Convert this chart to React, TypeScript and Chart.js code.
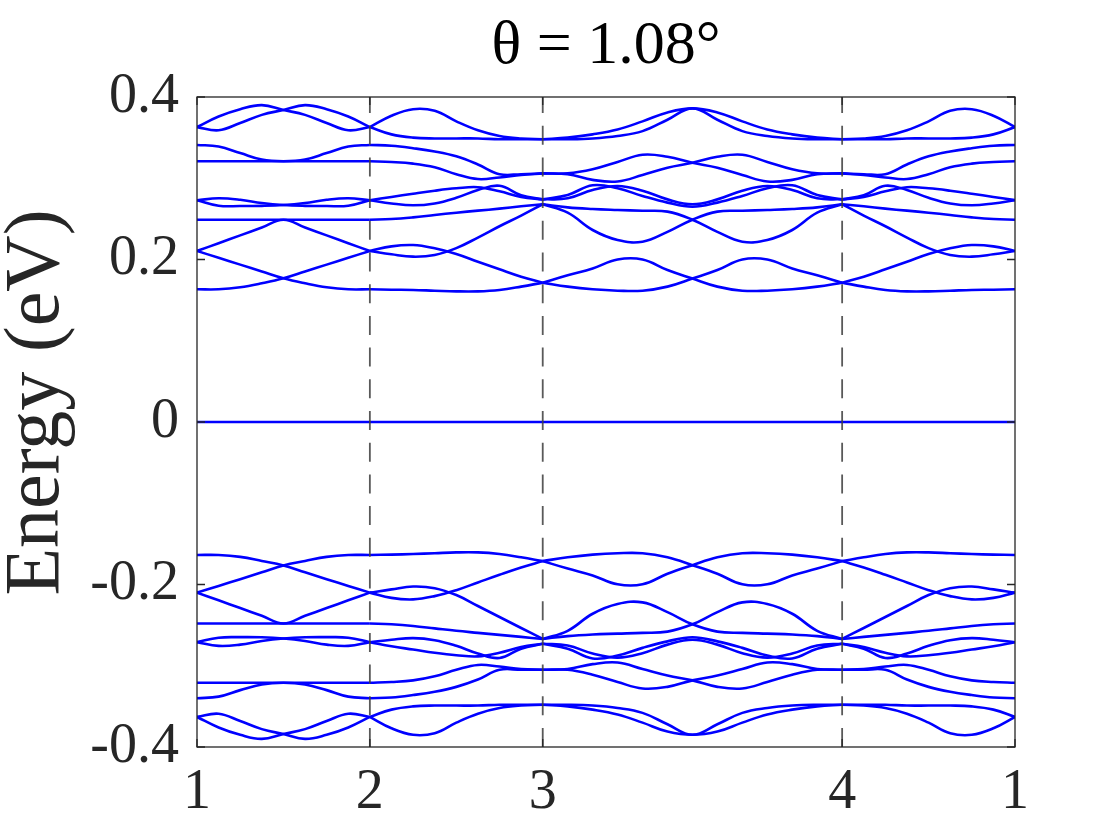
import React, { useEffect, useRef } from 'react';
import { Chart, registerables } from 'chart.js';

Chart.register(...registerables);

// High-symmetry path: node positions (path length units) and labels
const K_NODES = [0, 1, 2, 3.732, 4.732];
const K_NODE_LABELS = ['1', '2', '3', '4', '1'];
const SEG_STEPS = [8, 8, 12, 8];

const Y_TICKS = [-0.4, -0.2, 0, 0.2, 0.4];
const Y_TICK_LABELS = ['-0.4', '-0.2', '0', '0.2', '0.4'];
const TITLE = 'θ = 1.08°';
const Y_LABEL = '  Energy (eV)';

// Conduction-side bands (eV), sampled along the path (37 samples)
const UP_1 = [0.363, 0.376, 0.385, 0.390, 0.384, 0.378, 0.368, 0.359, 0.363,
  0.377, 0.385, 0.383, 0.370, 0.359, 0.352, 0.349, 0.348,
  0.350, 0.354, 0.360, 0.370, 0.381, 0.386, 0.381, 0.370, 0.360, 0.354, 0.350, 0.348,
  0.349, 0.352, 0.359, 0.370, 0.383, 0.385, 0.377, 0.363];
const UP_2 = [0.363, 0.359, 0.368, 0.378, 0.384, 0.390, 0.385, 0.376, 0.363,
  0.354, 0.350, 0.349, 0.349, 0.349, 0.348, 0.348, 0.348,
  0.348, 0.349, 0.352, 0.358, 0.372, 0.386, 0.372, 0.358, 0.352, 0.349, 0.348, 0.348,
  0.348, 0.348, 0.349, 0.349, 0.349, 0.350, 0.354, 0.363];
const UP_3 = [0.341, 0.339, 0.331, 0.323, 0.321, 0.323, 0.331, 0.339, 0.341,
  0.340, 0.337, 0.333, 0.327, 0.317, 0.305, 0.305, 0.306,
  0.306, 0.311, 0.320, 0.329, 0.3265, 0.319, 0.313, 0.304, 0.296, 0.298, 0.305, 0.306,
  0.305, 0.305, 0.317, 0.327, 0.333, 0.337, 0.340, 0.341];
const UP_4 = [0.321, 0.321, 0.321, 0.321, 0.321, 0.321, 0.321, 0.321, 0.321,
  0.320, 0.318, 0.3135, 0.305, 0.299, 0.301, 0.304, 0.306,
  0.305, 0.298, 0.296, 0.304, 0.313, 0.319, 0.3265, 0.329, 0.320, 0.311, 0.306, 0.306,
  0.304, 0.301, 0.299, 0.305, 0.3135, 0.318, 0.320, 0.321];
const UP_5 = [0.273, 0.2753, 0.2735, 0.2695, 0.267, 0.266, 0.2658, 0.2662, 0.273,
  0.277, 0.281, 0.2847, 0.2876, 0.289, 0.284, 0.277, 0.274,
  0.2794, 0.2913, 0.2876, 0.2782, 0.270, 0.265, 0.270, 0.2782, 0.2876, 0.2913, 0.2794, 0.274,
  0.277, 0.284, 0.289, 0.2876, 0.2847, 0.281, 0.277, 0.273];
const UP_6 = [0.273, 0.2662, 0.2658, 0.266, 0.267, 0.2695, 0.2735, 0.2753, 0.273,
  0.269, 0.2667, 0.269, 0.276, 0.2855, 0.2908, 0.279, 0.274,
  0.2753, 0.2855, 0.2905, 0.2847, 0.274, 0.268, 0.274, 0.2847, 0.2905, 0.2855, 0.2753, 0.274,
  0.279, 0.2908, 0.2855, 0.276, 0.269, 0.2667, 0.269, 0.273];
const UP_7 = [0.249, 0.249, 0.249, 0.249, 0.249, 0.249, 0.249, 0.249, 0.249,
  0.2498, 0.2519, 0.2548, 0.2576, 0.2601, 0.2626, 0.2655, 0.268,
  0.2642, 0.2622, 0.261, 0.260, 0.2589, 0.249, 0.234, 0.2219, 0.224, 0.2363, 0.2576, 0.268,
  0.2655, 0.2626, 0.2601, 0.2576, 0.2548, 0.2519, 0.2498, 0.249];
const UP_8 = [0.2105, 0.220, 0.2297, 0.2393, 0.249, 0.2393, 0.2297, 0.220, 0.2105,
  0.2064, 0.2035, 0.2055, 0.214, 0.227, 0.2409, 0.254, 0.268,
  0.2576, 0.2363, 0.224, 0.2219, 0.234, 0.249, 0.2589, 0.260, 0.261, 0.2622, 0.2642, 0.268,
  0.254, 0.2409, 0.227, 0.214, 0.2055, 0.2035, 0.2064, 0.2105];
const UP_9 = [0.1633, 0.1633, 0.1658, 0.1707, 0.1768, 0.1852, 0.1937, 0.2021, 0.2105,
  0.2162, 0.2178, 0.2138, 0.2068, 0.1973, 0.1879, 0.1788, 0.1715,
  0.1666, 0.1633, 0.1616, 0.1616, 0.1666, 0.1765, 0.187, 0.200, 0.200, 0.189, 0.1806, 0.1715,
  0.1666, 0.1625, 0.1608, 0.1608, 0.1616, 0.1625, 0.1628, 0.1633];
const UP_10 = [0.2105, 0.2021, 0.1937, 0.1852, 0.1768, 0.1707, 0.1658, 0.1633, 0.1633,
  0.1628, 0.1625, 0.1616, 0.1608, 0.1608, 0.1625, 0.1666, 0.1715,
  0.1806, 0.189, 0.200, 0.200, 0.187, 0.1765, 0.1666, 0.1616, 0.1616, 0.1633, 0.1666, 0.1715,
  0.1788, 0.1879, 0.1973, 0.2068, 0.2138, 0.2178, 0.2162, 0.2105];

// Flat bands at zero energy
const FLAT_0 = [0, 0, 0, 0, 0, 0, 0, 0, 0, 0, 0, 0, 0, 0, 0, 0, 0, 0, 0,
  0, 0, 0, 0, 0, 0, 0, 0, 0, 0, 0, 0, 0, 0, 0, 0, 0, 0];

// Valence-side bands (eV)
const DN_1 = [-0.363, -0.376, -0.385, -0.390, -0.384, -0.378, -0.368, -0.359, -0.363,
  -0.377, -0.385, -0.383, -0.370, -0.359, -0.352, -0.349, -0.348,
  -0.350, -0.354, -0.360, -0.370, -0.381, -0.385, -0.381, -0.370, -0.360, -0.354, -0.350, -0.348,
  -0.349, -0.352, -0.359, -0.370, -0.383, -0.385, -0.377, -0.363];
const DN_2 = [-0.363, -0.359, -0.368, -0.378, -0.384, -0.390, -0.385, -0.376, -0.363,
  -0.354, -0.350, -0.349, -0.349, -0.349, -0.348, -0.348, -0.348,
  -0.348, -0.349, -0.352, -0.358, -0.372, -0.385, -0.372, -0.358, -0.352, -0.349, -0.348, -0.348,
  -0.348, -0.348, -0.349, -0.349, -0.349, -0.350, -0.354, -0.363];
const DN_3 = [-0.340, -0.338, -0.330, -0.323, -0.321, -0.323, -0.330, -0.338, -0.340,
  -0.339, -0.336, -0.332, -0.326, -0.317, -0.305, -0.305, -0.305,
  -0.305, -0.311, -0.320, -0.328, -0.326, -0.318, -0.312, -0.304, -0.296, -0.298, -0.304, -0.305,
  -0.305, -0.305, -0.317, -0.326, -0.332, -0.336, -0.339, -0.340];
const DN_4 = [-0.321, -0.321, -0.321, -0.321, -0.321, -0.321, -0.321, -0.321, -0.321,
  -0.320, -0.318, -0.313, -0.305, -0.299, -0.301, -0.304, -0.305,
  -0.304, -0.298, -0.296, -0.304, -0.312, -0.318, -0.326, -0.328, -0.320, -0.311, -0.305, -0.305,
  -0.304, -0.301, -0.299, -0.305, -0.313, -0.318, -0.320, -0.321];
const DN_5 = [-0.271, -0.2755, -0.274, -0.2695, -0.2665, -0.265, -0.2648, -0.2655, -0.271,
  -0.276, -0.280, -0.284, -0.287, -0.2885, -0.284, -0.277, -0.273,
  -0.279, -0.291, -0.2875, -0.278, -0.270, -0.265, -0.270, -0.278, -0.2875, -0.291, -0.279, -0.273,
  -0.277, -0.284, -0.2885, -0.287, -0.284, -0.280, -0.276, -0.271];
const DN_6 = [-0.271, -0.2655, -0.2648, -0.265, -0.2665, -0.2695, -0.274, -0.2755, -0.271,
  -0.268, -0.266, -0.2685, -0.2755, -0.285, -0.2905, -0.279, -0.273,
  -0.275, -0.285, -0.290, -0.2845, -0.274, -0.268, -0.274, -0.2845, -0.290, -0.285, -0.275, -0.273,
  -0.279, -0.2905, -0.285, -0.2755, -0.2685, -0.266, -0.268, -0.271];
const DN_7 = [-0.248, -0.248, -0.248, -0.248, -0.248, -0.248, -0.248, -0.248, -0.248,
  -0.249, -0.251, -0.254, -0.257, -0.2595, -0.262, -0.2645, -0.267,
  -0.2635, -0.2615, -0.2605, -0.2595, -0.258, -0.249, -0.234, -0.222, -0.224, -0.236, -0.257, -0.267,
  -0.2645, -0.262, -0.2595, -0.257, -0.254, -0.251, -0.249, -0.248];
const DN_8 = [-0.210, -0.2195, -0.229, -0.2385, -0.248, -0.2385, -0.229, -0.2195, -0.210,
  -0.206, -0.2025, -0.2045, -0.213, -0.2265, -0.240, -0.2535, -0.267,
  -0.257, -0.236, -0.224, -0.222, -0.234, -0.249, -0.258, -0.2595, -0.2605, -0.2615, -0.2635, -0.267,
  -0.2535, -0.240, -0.2265, -0.213, -0.2045, -0.2025, -0.206, -0.210];
const DN_9 = [-0.1637, -0.1637, -0.166, -0.171, -0.1765, -0.185, -0.1935, -0.2018, -0.210,
  -0.2165, -0.2183, -0.2143, -0.207, -0.1975, -0.188, -0.179, -0.1712,
  -0.1665, -0.1632, -0.1615, -0.1615, -0.1665, -0.1762, -0.1868, -0.1998, -0.1998, -0.1888, -0.1804, -0.1712,
  -0.1665, -0.1625, -0.1605, -0.1605, -0.1615, -0.1625, -0.1632, -0.1637];
const DN_10 = [-0.210, -0.2018, -0.1935, -0.185, -0.1765, -0.171, -0.166, -0.1637, -0.1637,
  -0.1632, -0.1625, -0.1615, -0.1605, -0.1605, -0.1625, -0.1665, -0.1712,
  -0.1804, -0.1888, -0.1998, -0.1998, -0.1868, -0.1762, -0.1665, -0.1615, -0.1615, -0.1632, -0.1665, -0.1712,
  -0.179, -0.188, -0.1975, -0.207, -0.2143, -0.2183, -0.2165, -0.210];

const BANDS = [UP_1, UP_2, UP_3, UP_4, UP_5, UP_6, UP_7, UP_8, UP_9, UP_10, FLAT_0,
  DN_1, DN_2, DN_3, DN_4, DN_5, DN_6, DN_7, DN_8, DN_9, DN_10];

const FONT_FAMILY = '"Liberation Serif", "DejaVu Serif", serif';
const TEXT_COLOR = '#262626';
const BAND_COLOR = '#0000ff';

function buildPath() {
  const k: number[] = [];
  const ranges: [number, number][] = [];
  let idx = 0;
  for (let s = 0; s < SEG_STEPS.length; s++) {
    const k0 = K_NODES[s];
    const k1 = K_NODES[s + 1];
    const n = SEG_STEPS[s];
    for (let j = s === 0 ? 0 : 1; j <= n; j++) {
      k.push(k0 + ((k1 - k0) * j) / n);
    }
    ranges.push([idx, idx + n]);
    idx += n;
  }
  return { k, ranges };
}

const framePlugin = {
  id: 'frame',
  afterDatasetsDraw(chart: any) {
    const { ctx, chartArea: a, scales } = chart;
    const x = scales.x;
    const y = scales.y;
    ctx.save();
    // dashed high-symmetry lines
    ctx.strokeStyle = 'rgba(60,60,60,0.85)';
    ctx.lineWidth = 1.8;
    ctx.setLineDash([19, 12.7]);
    for (const kv of K_NODES.slice(1, -1)) {
      const px = x.getPixelForValue(kv);
      ctx.beginPath();
      ctx.moveTo(px, a.bottom);
      ctx.lineTo(px, a.top);
      ctx.stroke();
    }
    ctx.setLineDash([]);
    // axes box
    ctx.strokeStyle = TEXT_COLOR;
    ctx.lineWidth = 1.3;
    ctx.strokeRect(a.left, a.top, a.right - a.left, a.bottom - a.top);
    // inward ticks
    const tl = 8;
    ctx.beginPath();
    for (const v of Y_TICKS) {
      const py = y.getPixelForValue(v);
      ctx.moveTo(a.left, py);
      ctx.lineTo(a.left + tl, py);
      ctx.moveTo(a.right, py);
      ctx.lineTo(a.right - tl, py);
    }
    for (const kv of K_NODES) {
      const px = x.getPixelForValue(kv);
      ctx.moveTo(px, a.bottom);
      ctx.lineTo(px, a.bottom - tl);
      ctx.moveTo(px, a.top);
      ctx.lineTo(px, a.top + tl);
    }
    ctx.stroke();
    ctx.restore();
  },
};

export default function App() {
  const canvasRef = useRef<HTMLCanvasElement | null>(null);

  useEffect(() => {
    document.body.style.margin = '0';
    const canvas = canvasRef.current;
    if (!canvas) return;
    const { k, ranges } = buildPath();

    const datasets: any[] = [];
    BANDS.forEach((band) => {
      ranges.forEach(([i0, i1]) => {
        const data = [];
        for (let i = i0; i <= i1; i++) data.push({ x: k[i], y: band[i] });
        datasets.push({
          data,
          showLine: true,
          borderColor: BAND_COLOR,
          backgroundColor: BAND_COLOR,
          borderWidth: 2.6,
          pointRadius: 0,
          pointHoverRadius: 0,
          tension: 0.4,
          fill: false,
        });
      });
    });

    const chart = new Chart(canvas, {
      type: 'scatter',
      data: { datasets },
      options: {
        animation: false,
        responsive: false,
        devicePixelRatio: 1,
        events: [],
        layout: { padding: { top: 0, right: 105, bottom: 0, left: 0 } },
        plugins: {
          legend: { display: false },
          tooltip: { enabled: false },
          title: {
            display: true,
            text: TITLE,
            fullSize: false,
            color: '#000000',
            font: { family: FONT_FAMILY, size: 62, weight: 'normal', lineHeight: 1.1 },
            padding: { top: 13, bottom: 15.8 },
          },
        },
        scales: {
          x: {
            type: 'linear',
            min: K_NODES[0],
            max: K_NODES[K_NODES.length - 1],
            grid: { display: false },
            border: { display: false },
            afterBuildTicks: (s: any) => {
              s.ticks = K_NODES.map((v) => ({ value: v }));
            },
            afterFit: (s: any) => {
              s.height = 93;
            },
            ticks: {
              autoSkip: false,
              maxRotation: 0,
              padding: 5,
              color: TEXT_COLOR,
              font: { family: FONT_FAMILY, size: 56 },
              callback: (_v: any, i: number) => K_NODE_LABELS[i],
            },
          },
          y: {
            min: -0.4,
            max: 0.4,
            grid: { display: false },
            border: { display: false },
            afterBuildTicks: (s: any) => {
              s.ticks = Y_TICKS.map((v) => ({ value: v }));
            },
            afterFit: (s: any) => {
              s.width = 197;
            },
            ticks: {
              padding: 10,
              color: TEXT_COLOR,
              font: { family: FONT_FAMILY, size: 56 },
              callback: (_v: any, i: number) => Y_TICK_LABELS[i],
            },
            title: {
              display: true,
              text: Y_LABEL,
              color: TEXT_COLOR,
              font: { family: FONT_FAMILY, size: 78, lineHeight: 0.95 },
              padding: { top: 0, bottom: 0 },
            },
          },
        },
      },
      plugins: [framePlugin],
    });

    return () => chart.destroy();
  }, []);

  return (
    <canvas
      ref={canvasRef}
      width={1120}
      height={840}
      style={{ display: 'block', width: '1120px', height: '840px' }}
    />
  );
}
